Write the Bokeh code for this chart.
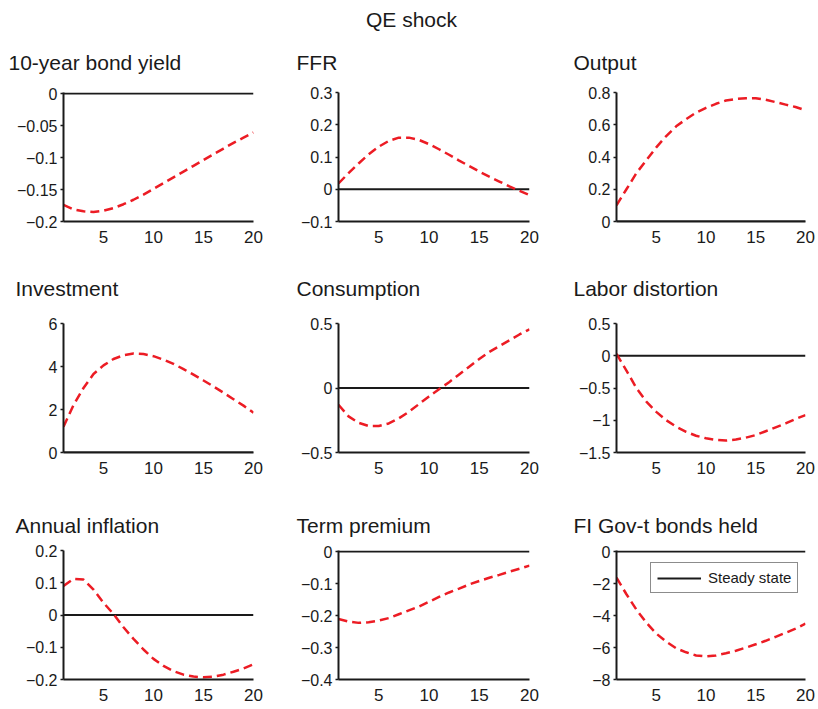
from bokeh.plotting import figure
from bokeh.models import Range1d, FixedTicker, Legend, LegendItem
from bokeh.layouts import column, row
from bokeh.embed import file_html
from bokeh.resources import INLINE
from bokeh.core.properties import value

# ---------------- data ----------------
periods = list(range(1, 21))
steady_state = [0.0] * 20

bond_yield = [-0.174, -0.181, -0.184, -0.185, -0.183, -0.179, -0.173, -0.166, -0.158, -0.149,
              -0.140, -0.131, -0.122, -0.113, -0.104, -0.095, -0.086, -0.077, -0.069, -0.061]
ffr = [0.018, 0.050, 0.080, 0.108, 0.132, 0.150, 0.160, 0.160, 0.153, 0.140,
       0.124, 0.107, 0.089, 0.072, 0.055, 0.039, 0.024, 0.009, -0.005, -0.018]
output = [0.10, 0.20, 0.30, 0.38, 0.46, 0.53, 0.59, 0.635, 0.675, 0.705,
          0.73, 0.75, 0.76, 0.765, 0.765, 0.755, 0.74, 0.725, 0.71, 0.69]
investment = [1.2, 2.2, 3.0, 3.65, 4.05, 4.35, 4.52, 4.6, 4.58, 4.48,
              4.32, 4.12, 3.88, 3.62, 3.35, 3.07, 2.78, 2.48, 2.18, 1.85]
consumption = [-0.13, -0.22, -0.27, -0.295, -0.295, -0.275, -0.235, -0.185, -0.125, -0.065,
               -0.01, 0.045, 0.105, 0.165, 0.225, 0.28, 0.325, 0.37, 0.415, 0.455]
labor_distortion = [0.03, -0.23, -0.50, -0.71, -0.87, -1.00, -1.10, -1.18, -1.24, -1.28,
                    -1.305, -1.315, -1.30, -1.27, -1.23, -1.17, -1.11, -1.05, -0.98, -0.92]
annual_inflation = [0.09, 0.112, 0.11, 0.079, 0.038, 0.003, -0.038, -0.074, -0.107, -0.136,
                    -0.158, -0.174, -0.185, -0.191, -0.193, -0.191, -0.185, -0.176, -0.166, -0.153]
term_premium = [-0.211, -0.219, -0.223, -0.221, -0.216, -0.208, -0.196, -0.184, -0.172, -0.157,
                -0.142, -0.128, -0.116, -0.103, -0.092, -0.082, -0.073, -0.063, -0.054, -0.044]
fi_bonds = [-1.64, -2.67, -3.63, -4.45, -5.13, -5.64, -6.05, -6.30, -6.50, -6.56,
            -6.50, -6.36, -6.20, -6.01, -5.80, -5.58, -5.33, -5.08, -4.82, -4.51]

titles = ["10-year bond yield", "FFR", "Output",
          "Investment", "Consumption", "Labor distortion",
          "Annual inflation", "Term premium", "FI Gov-t bonds held"]
series = [bond_yield, ffr, output, investment, consumption, labor_distortion,
          annual_inflation, term_premium, fi_bonds]
y_limits = [(-0.2, 0), (-0.1, 0.3), (0, 0.8), (0, 6), (-0.5, 0.5), (-1.5, 0.5),
            (-0.2, 0.2), (-0.4, 0), (-8, 0)]
y_ticks = [[-0.2, -0.15, -0.1, -0.05, 0], [-0.1, 0, 0.1, 0.2, 0.3], [0, 0.2, 0.4, 0.6, 0.8],
           [0, 2, 4, 6], [-0.5, 0, 0.5], [-1.5, -1, -0.5, 0, 0.5],
           [-0.2, -0.1, 0, 0.1, 0.2], [-0.4, -0.3, -0.2, -0.1, 0], [-8, -6, -4, -2, 0]]
y_tick_labels = [["\u22120.2", "\u22120.15", "\u22120.1", "\u22120.05", "0"],
                 ["\u22120.1", "0", "0.1", "0.2", "0.3"],
                 ["0", "0.2", "0.4", "0.6", "0.8"],
                 ["0", "2", "4", "6"],
                 ["\u22120.5", "0", "0.5"],
                 ["\u22121.5", "\u22121", "\u22120.5", "0", "0.5"],
                 ["\u22120.2", "\u22120.1", "0", "0.1", "0.2"],
                 ["\u22120.4", "\u22120.3", "\u22120.2", "\u22120.1", "0"],
                 ["\u22128", "\u22126", "\u22124", "\u22122", "0"]]
x_ticks = [5, 10, 15, 20]
x_tick_labels = ["5", "10", "15", "20"]
main_title = "QE shock"
legend_label = "Steady state"

# ---------------- style / layout ----------------
FONT = "Liberation Sans"
RED = "#ec1c24"
INK = "#1a1a1a"
TOTAL_W = 818
COL_W = [283, 278, 257]
BORDER_L = [63, 55, 55]
BORDER_R = [30, 32, 13]
PANEL_H = 170
TITLE_X = [[8, 296, 573], [15, 296, 573], [15, 296, 573]]


def make_panel(i):
    c = i % 3
    ylo, yhi = y_limits[i]
    # tiny headroom so a zero line lying on the top edge is not half clipped
    top = yhi + (yhi - ylo) * 0.008 if yhi == 0 else yhi
    p = figure(width=COL_W[c], height=PANEL_H,
               x_range=Range1d(1, 20), y_range=Range1d(ylo, top),
               min_border_left=BORDER_L[c], min_border_right=BORDER_R[c],
               min_border_top=12, min_border_bottom=29,
               output_backend="svg", toolbar_location=None)
    p.outline_line_color = None
    p.xgrid.visible = False
    p.ygrid.visible = False
    ss = p.line(periods, steady_state, line_color=INK, line_width=2)
    p.line(periods, series[i], line_color=RED, line_width=2.5, line_dash="9 5")

    p.xaxis.ticker = FixedTicker(ticks=x_ticks)
    p.xaxis.major_label_overrides = dict(zip(x_ticks, x_tick_labels))
    p.yaxis.ticker = FixedTicker(ticks=y_ticks[i])
    p.yaxis.major_label_overrides = dict(zip(y_ticks[i], y_tick_labels[i]))
    for ax in (p.xaxis[0], p.yaxis[0]):
        ax.axis_line_width = 2
        ax.axis_line_color = INK
        ax.major_tick_line_color = INK
        ax.major_tick_line_width = 1.5
        ax.minor_tick_line_color = None
        ax.major_label_text_font = FONT
        ax.major_label_text_color = INK
    p.xaxis.major_label_text_font_size = "17px"
    p.yaxis.major_label_text_font_size = "16px"
    p.xaxis.major_tick_out = 0
    p.xaxis.major_tick_in = 0
    p.xaxis.major_label_standoff = 9
    p.yaxis.major_tick_out = 3
    p.yaxis.major_tick_in = 0
    p.yaxis.major_label_standoff = 3

    if i == 8:
        leg = Legend(items=[LegendItem(label=legend_label, renderers=[ss])],
                     location=(34, 86), padding=6, spacing=0, margin=0,
                     glyph_width=44, glyph_height=16, label_height=16,
                     label_standoff=7, label_text_font=FONT,
                     label_text_font_size="15px", label_text_color=INK,
                     border_line_color=INK, border_line_width=1,
                     background_fill_color="white", background_fill_alpha=1)
        p.add_layout(leg)
    return p


def make_strip(h, texts, xs, y, main_y=None):
    s = figure(width=TOTAL_W, height=h, x_range=Range1d(0, TOTAL_W), y_range=Range1d(h, 0),
               min_border=0, min_border_left=0, min_border_right=0, min_border_top=0,
               min_border_bottom=0, x_axis_location=None, y_axis_location=None,
               output_backend="svg", toolbar_location=None)
    s.outline_line_color = None
    s.grid.visible = False
    if main_y is not None:
        s.text(x=[411], y=[main_y], text=[main_title], text_font=value(FONT),
               text_font_size="21px", text_align="center", text_baseline="middle",
               text_color=INK)
    s.text(x=xs, y=[y] * len(texts), text=texts, text_font=value(FONT),
           text_font_size="21px", text_align="left", text_baseline="middle",
           text_color=INK)
    return s


panels = [make_panel(i) for i in range(9)]
strip_a = make_strip(80, titles[0:3], TITLE_X[0], 62, main_y=19)
strip_b = make_strip(61, titles[3:6], TITLE_X[1], 38)
strip_c = make_strip(57, titles[6:9], TITLE_X[2], 44)

layout = column(strip_a, row(*panels[0:3]), strip_b, row(*panels[3:6]),
                strip_c, row(*panels[6:9]))

with open("out.html", "w") as f:
    f.write(file_html(layout, INLINE))
